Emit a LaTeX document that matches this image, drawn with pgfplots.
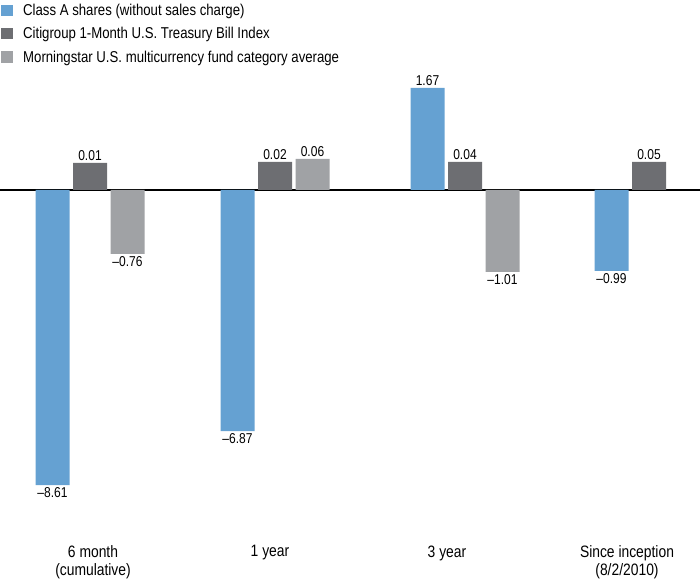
\documentclass[border=0pt]{standalone}
\usepackage{fontspec}
\setmainfont{Liberation Sans}[FakeStretch=0.84]
\usepackage{pgfplots}
\pgfplotsset{compat=1.18}
\definecolor{cblue}{RGB}{101,161,210}
\definecolor{cdark}{RGB}{109,110,114}
\definecolor{clight}{RGB}{160,162,165}
\begin{document}
\begin{tikzpicture}
\begin{axis}[
  name=ax,
  scale only axis, width=700bp, height=579bp,
  xmin=0, xmax=700, ymin=-389, ymax=190,
  axis line style={draw=none},
  ytick=\empty,
  xtick={93,270,447,627},
  xticklabels={6 month\\(cumulative), 1 year, 3 year, Since inception\\(8/2/2010)},
  xticklabel style={align=center, anchor=north, yshift=37bp, font=\fontsize{16.5bp}{18bp}\selectfont},
  major tick length=0pt,
  extra y ticks={0}, extra y tick labels={},
  extra y tick style={grid=major, major grid style={black, line width=1.1bp}},
  ybar=3.5bp, bar width=34,
  clip=false,
  nodes near coords, point meta=explicit symbolic,
  visualization depends on={value \thisrow{anc} \as \myanc},
  every node near coord/.append style={font=\fontsize{14.3bp}{16bp}\selectfont, text=black, inner sep=2bp, anchor=\myanc},
  legend style={at={(0,1)}, anchor=north west, yshift=-1bp, draw=none, fill=none, inner sep=1bp,
    font=\fontsize{15.7bp}{19bp}\selectfont, row sep=6.5bp, legend cell align=left},
  legend image code/.code={\fill[#1] (0bp,-5.5bp) rectangle (11.5bp,6bp); \path (20bp,0bp);},
]
% y values: drawn bar heights as in the reference (not to scale); labels: reported returns (%)
\addplot[fill=cblue, draw=none] table[x=x, y=y, meta=lab] {
x y lab anc
90 -295 --8.61 north
275 -241 --6.87 north
465 102 1.67 south
649 -81 --0.99 north
};
\addplot[fill=cdark, draw=none] table[x=x, y=y, meta=lab] {
x y lab anc
90 27 0.01 south
275 28 0.02 south
465 28 0.04 south
649 28 0.05 south
};
\addplot[fill=clight, draw=none] table[x=x, y=y, meta=lab] {
x y lab anc
90 -64 --0.76 north
275 31 0.06 south
465 -82 --1.01 north
};
\legend{Class A shares (without sales charge), Citigroup 1-Month U.S. Treasury Bill Index, Morningstar U.S. multicurrency fund category average}
\end{axis}
\pgfresetboundingbox
\path (ax.south west) rectangle (ax.north east);
\end{tikzpicture}
\end{document}
